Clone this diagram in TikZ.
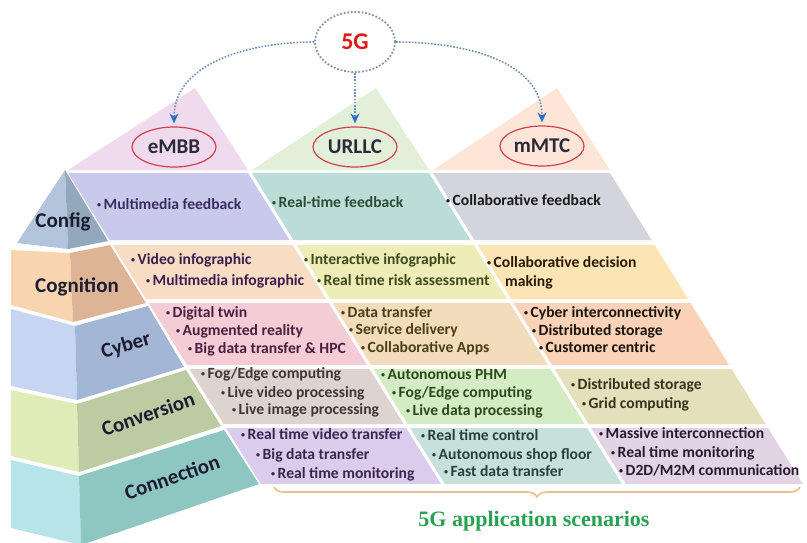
\documentclass[tikz,border=0pt]{standalone}
\usepackage{fontspec}
\setmainfont{Carlito}
\newfontfamily\capserif{Liberation Serif}
\usetikzlibrary{shapes.geometric,arrows.meta,decorations.pathreplacing}

% layer colours of the stepped pyramid (light face / dark face)
\definecolor{cfgL}{HTML}{B2C5DC}\definecolor{cfgD}{HTML}{94A8BC}
\definecolor{cogL}{HTML}{F8D4B0}\definecolor{cogD}{HTML}{DDB596}
\definecolor{cybL}{HTML}{C6D6F2}\definecolor{cybD}{HTML}{A4B6D6}
\definecolor{cnvL}{HTML}{E0ECB8}\definecolor{cnvD}{HTML}{BCCCA2}
\definecolor{conL}{HTML}{B6E4E8}\definecolor{conD}{HTML}{8EC6C2}
% service columns
\definecolor{triE}{HTML}{F0DAEE}\definecolor{triU}{HTML}{E2F0DA}\definecolor{triM}{HTML}{FDE6D8}
\definecolor{e1}{HTML}{C9C9EC}\definecolor{e2}{HTML}{F8DCC4}\definecolor{e3}{HTML}{F4CCD6}
\definecolor{e4}{HTML}{DDD4D0}\definecolor{e5}{HTML}{DCCCEC}
\definecolor{u1}{HTML}{BCDCD8}\definecolor{u2}{HTML}{EEEDB8}\definecolor{u3}{HTML}{F2DCBC}
\definecolor{u4}{HTML}{D4ECC4}\definecolor{u5}{HTML}{C8E0DC}
\definecolor{m1}{HTML}{D4D4DC}\definecolor{m2}{HTML}{FCE4B4}\definecolor{m3}{HTML}{F9D2B8}
\definecolor{m4}{HTML}{E4E0BC}\definecolor{m5}{HTML}{E2D4E4}
% text colours
\definecolor{te1}{HTML}{3A2E5E}\definecolor{te2}{HTML}{3A2050}\definecolor{te3}{HTML}{4A1E3E}
\definecolor{te4}{HTML}{40363A}\definecolor{te5}{HTML}{3A2450}
\definecolor{tu1}{HTML}{2E4A34}\definecolor{tu2}{HTML}{3E4A1C}\definecolor{tu3}{HTML}{4A3E14}
\definecolor{tu4}{HTML}{2A4A1A}\definecolor{tu5}{HTML}{24423A}
\definecolor{tm1}{HTML}{1A1A1A}\definecolor{tm2}{HTML}{2A1A08}\definecolor{tm3}{HTML}{1A1208}
\definecolor{tm4}{HTML}{343418}\definecolor{tm5}{HTML}{2A1A30}
\definecolor{labcol}{HTML}{1C1C30}
\definecolor{hdrred}{HTML}{D2404E}
\definecolor{hdrtext}{HTML}{2A2A3A}
\definecolor{fivered}{HTML}{E01818}
\definecolor{ringcol}{HTML}{8494A8}
\definecolor{linkcol}{HTML}{6F8FB8}
\definecolor{tipcol}{HTML}{3070C0}
\definecolor{bracecol}{HTML}{E8C088}
\definecolor{capgreen}{HTML}{2AA050}

% bullet used in front of every item
\newcommand\bt{\raisebox{0.14em}{\fontsize{8}{8}\selectfont\textbullet}\hspace{2.5pt}}
% slanted cell of a service column: x-left, x-right (at y=173), y-top, y-bottom, colour
\newcommand\cellband[5]{%
  \fill[#5] ({#1+0.62*(#3-173)},#3) -- ({#2+0.62*(#3-173)},#3)
    -- ({#2+0.62*(#4-173)},#4) -- ({#1+0.62*(#4-173)},#4) -- cycle;}

\tikzset{
  item/.style={anchor=mid west, inner sep=0pt, font=\bfseries\fontsize{15.6}{15.6}\selectfont},
  lab/.style={inner sep=0pt, text=labcol, font=\bfseries\fontsize{21}{21}\selectfont},
  hdr/.style={ellipse, draw=hdrred, line width=1.2pt, minimum width=84pt, minimum height=40pt,
    inner sep=0pt, text=hdrtext, font=\bfseries\fontsize{21}{21}\selectfont},
  ring/.style={ellipse, draw=ringcol, line width=1.8pt, dash pattern=on 1.8pt off 1.8pt,
    minimum width=80pt, minimum height=60pt, inner sep=0pt, text=fivered,
    font=\bfseries\fontsize{24}{24}\selectfont},
  link/.style={draw=linkcol, line width=1.6pt, dash pattern=on 1.6pt off 1.6pt,
    -{Stealth[length=10pt,width=9pt,color=tipcol]}, shorten >=3pt},
  bracestyle/.style={draw=bracecol, line width=1.6pt, decorate,
    decoration={brace, mirror, amplitude=10pt}},
}

\begin{document}
\begin{tikzpicture}[x=1pt, y=-1pt]
\useasboundingbox (0,0) rectangle (807,542);
\clip (0,0) rectangle (807,542);

% ---- top triangles of the three service columns
\fill[triE] (68,170) -- (248,170) -- (195,88) -- cycle;
\fill[triU] (252,170) -- (429,170) -- (376,88) -- cycle;
\fill[triM] (433,170) -- (610,170) -- (557,88) -- cycle;

% ---- service cells, row by row
\cellband{68}{248}{173}{240}{e1}\cellband{252}{429}{173}{240}{u1}\cellband{433}{610}{173}{240}{m1}
\cellband{68}{248}{245}{299}{e2}\cellband{252}{429}{245}{299}{u2}\cellband{433}{610}{245}{299}{m2}
\cellband{68}{248}{303}{365}{e3}\cellband{252}{429}{303}{365}{u3}\cellband{433}{610}{303}{365}{m3}
\cellband{68}{248}{369}{424}{e4}\cellband{252}{429}{369}{424}{u4}\cellband{433}{610}{369}{424}{m4}
\cellband{68}{248}{428}{484}{e5}\cellband{252}{429}{428}{484}{u5}\cellband{433}{610}{428}{484}{m5}

% ---- stepped pyramid, light left face and darker right face
\fill[cfgL] (65,170) -- (17,243) -- (68,249) -- cycle;
\fill[cfgD] (65,170) -- (68,249) -- (108,241) -- cycle;
\fill[cogL] (11,250) -- (11,305) -- (73,322) -- (70,253) -- cycle;
\fill[cogD] (70,253) -- (73,322) -- (146,303) -- (110,245) -- cycle;
\fill[cybL] (11,309) -- (11,386) -- (77,400) -- (75,326) -- cycle;
\fill[cybD] (75,326) -- (77,400) -- (184,367) -- (148,306) -- cycle;
\fill[cnvL] (11,390) -- (11,456) -- (79,472) -- (77,404) -- cycle;
\fill[cnvD] (77,404) -- (79,472) -- (221,426) -- (186,370) -- cycle;
\fill[conL] (11,460) -- (11,528) -- (81,545) -- (79,476) -- cycle;
\fill[conD] (79,476) -- (81,545) -- (259,484) -- (224,430) -- cycle;

% ---- layer names
\node[lab] (lcfg) at (63,222) {Config};
\node[lab] (lcog) at (77,287) {Cognition};
\node[lab, rotate=16] (lcyb) at (126,346) {Cyber};
\node[lab, rotate=19] (lcnv) at (148,414) {Conversion};
\node[lab, rotate=19] (lcon) at (172,477) {Connection};

% ---- 5G and the three service classes
\node[ring] (g5) at (355,42) {5G};
\node[hdr] (embb) at (174,147) {eMBB};
\node[hdr] (urllc) at (355,147) {URLLC};
\node[hdr] (mmtc) at (542,146) {mMTC};
\draw[link] (g5.west) to[out=180, in=90] (embb.north);
\draw[link] (g5.south) -- (urllc.north);
\draw[link] (g5.east) to[out=0, in=90] (mmtc.north);

% ---- Config row
\node[item, text=te1] (e1a) at (97,207) {\bt Multimedia feedback};
\node[item, text=tu1] (u1a) at (272,205) {\bt Real-time feedback};
\node[item, text=tm1] (m1a) at (446,203) {\bt Collaborative feedback};

% ---- Cognition row
\node[item, text=te2] (e2a) at (131,262) {\bt Video infographic};
\node[item, text=te2] (e2b) at (146,283) {\bt Multimedia infographic};
\node[item, text=tu2] (u2a) at (304,262) {\bt Interactive infographic};
\node[item, text=tu2] (u2b) at (317,283) {\bt Real time risk assessment};
\node[item, text=tm2] (m2a) at (487,265) {\bt Collaborative decision};
\node[item, text=tm2] (m2b) at (505,284) {making};

% ---- Cyber row
\node[item, text=te3] (e3a) at (166,315) {\bt Digital twin};
\node[item, text=te3] (e3b) at (176,333) {\bt Augmented reality};
\node[item, text=te3] (e3c) at (188,351) {\bt Big data transfer \& HPC};
\node[item, text=tu3] (u3a) at (341,315) {\bt Data transfer};
\node[item, text=tu3] (u3b) at (349,332) {\bt Service delivery};
\node[item, text=tu3] (u3c) at (361,350) {\bt Collaborative Apps};
\node[item, text=tm3] (m3a) at (524,315) {\bt Cyber interconnectivity};
\node[item, text=tm3] (m3b) at (532,333) {\bt Distributed storage};
\node[item, text=tm3] (m3c) at (539,350) {\bt Customer centric};

% ---- Conversion row
\node[item, text=te4] (e4a) at (201,376) {\bt Fog/Edge computing};
\node[item, text=te4] (e4b) at (221,395) {\bt Live video processing};
\node[item, text=te4] (e4c) at (232,412) {\bt Live image processing};
\node[item, text=tu4] (u4a) at (381,377) {\bt Autonomous PHM};
\node[item, text=tu4] (u4b) at (392,395) {\bt Fog/Edge computing};
\node[item, text=tu4] (u4c) at (406,413) {\bt Live data processing};
\node[item, text=tm4] (m4a) at (571,387) {\bt Distributed storage};
\node[item, text=tm4] (m4b) at (582,406) {\bt Grid computing};

% ---- Connection row
\node[item, text=te5] (e5a) at (241,437) {\bt Real time video transfer};
\node[item, text=te5] (e5b) at (256,457) {\bt Big data transfer};
\node[item, text=te5] (e5c) at (271,476) {\bt Real time monitoring};
\node[item, text=tu5] (u5a) at (421,438) {\bt Real time control};
\node[item, text=tu5] (u5b) at (432,457) {\bt Autonomous shop floor};
\node[item, text=tu5] (u5c) at (444,474) {\bt Fast data transfer};
\node[item, text=tm5] (m5a) at (599,436) {\bt Massive interconnection};
\node[item, text=tm5] (m5b) at (611,455) {\bt Real time monitoring};
\node[item, text=tm5] (m5c) at (619,473) {\bt D2D/M2M communication};

% ---- brace and caption
\coordinate (bl) at (274,487);
\coordinate (br) at (800,487);
\draw[bracestyle] (bl) -- (br);
\node[text=capgreen, font=\capserif\bfseries\fontsize{22}{22}\selectfont] (cap) at (534,521)
  {5G application scenarios};
\end{tikzpicture}
\end{document}
